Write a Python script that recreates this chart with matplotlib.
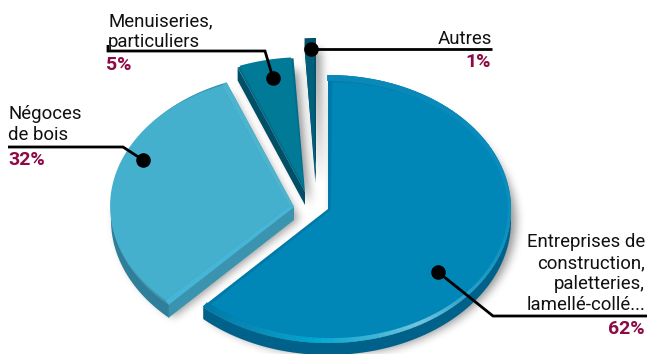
import numpy as np
import matplotlib
matplotlib.use("Agg")
import matplotlib.pyplot as plt
from matplotlib.patches import Polygon
from matplotlib.path import Path

categories = ["Entreprises de\nconstruction,\npaletteries,\nlamellé-collé...", "Négoces\nde bois", "Menuiseries,\nparticuliers", "Autres"]
values = [62, 32, 5, 1]
pct_labels = ["62%", "32%", "5%", "1%"]

top_colors = ["#0087b7", "#45b0ce", "#007a96", "#005f7a"]
bevel_colors = ["#0079a8", "#3b95b0", "#006e8a", "#00526b"]
wall_colors = ["#00628a", "#2f7f9a", "#004f66", "#003f55"]
cut_colors = ["#00628a", "#3a94b0", "#004f66", "#003f55"]
rim_angles = [227, 250, 265, 285, 300, 320, 345, 370, 450]
rim_colors = ["#0079a6", "#0a8fbb", "#00a6d0", "#3fb4d6", "#75c4df", "#2aa0c8", "#0b93c0", "#0a8cbc", "#0a88b8"]

centers = [(328, 209), (294, 207), (305, 192), (316, 172)]
A, B = 183, 134
DEPTH = [12, 13, 13, 11]
BEVEL = [6, 4, 5, 4]
SHIFT = [3, 5, 6, 0]

fig = plt.figure(figsize=(6.48, 3.54), dpi=100)
ax = fig.add_axes([0, 0, 1, 1])
ax.set_xlim(0, 648)
ax.set_ylim(354, 0)
ax.axis("off")


def arc(c, t1, t2, a=A, b=B, n=120):
    t = np.radians(np.linspace(t1, t2, n))
    return np.column_stack([c[0] + a * np.cos(t), c[1] - b * np.sin(t)])


def wedge(c, t1, t2, a=A, b=B):
    return np.vstack([[c], arc(c, t1, t2, a, b)])


def shadow(poly, dx, dy, blur, strength):
    xx, yy = np.meshgrid(np.arange(648) + 0.5, np.arange(354) + 0.5)
    pts = np.column_stack([xx.ravel() - dx, yy.ravel() - dy])
    m = Path(poly).contains_points(pts).reshape(xx.shape).astype(float)
    k = np.ones(blur) / blur
    for i in range(3):
        m = np.apply_along_axis(lambda r: np.convolve(r, k, mode="same"), 0, m)
        m = np.apply_along_axis(lambda r: np.convolve(r, k, mode="same"), 1, m)
    img = np.zeros(m.shape + (4,))
    img[..., 3] = m * strength
    ax.imshow(img, extent=(0, 648, 354, 0), zorder=1, aspect="auto", interpolation="bilinear")


# slice angles, clockwise from the top
spans = []
start = 90
for v in values:
    end = start - v * 3.6
    spans.append((end, start))
    start = end

for i, (t1, t2) in enumerate(spans):
    shadow(wedge(centers[i], t1, t2), 5, 12, 9, 0.42)

for i, (t1, t2) in enumerate(spans):
    c = centers[i]
    d = DEPTH[i]
    z = 2 + i

    # outer wall, only the part that faces the viewer
    lo, hi = [(227, 360), (180, 227), (0, 0), (0, 0)][i]
    if hi > lo:
        a1 = arc(c, lo, hi)
        ax.add_patch(Polygon(np.vstack([a1, (a1 + [0, d])[::-1]]), fc=wall_colors[i], ec="none", zorder=z))

    # cut face: the lower edge for Négoces, the left edge for the two small ones
    if i > 0:
        e = arc(c, t2, t2, n=1)[0]
        ax.add_patch(Polygon([c, e, e + [0, d], np.array(c) + [0, d]], fc=cut_colors[i], ec="none", zorder=z))

    ax.add_patch(Polygon(wedge(c, t1, t2), fc=bevel_colors[i], ec="none", zorder=z + 0.1))

    # bevel band on the rim of the big slice changes colour round the edge
    if i == 0:
        edges = np.linspace(t1 + 360, 450, 110)
        rs = [int(rim_colors[k][j:j + 2], 16) for k in range(len(rim_colors)) for j in (1, 3, 5)]
        rs = np.array(rs).reshape(-1, 3) / 255
        for e1, e2 in zip(edges[:-1], edges[1:]):
            col = [np.interp((e1 + e2) / 2, rim_angles, rs[:, q]) for q in range(3)]
            o = arc(c, e1, e2 + 0.3, n=4)
            n = arc(c, e1, e2 + 0.3, A - BEVEL[i], B - BEVEL[i], n=4)
            ax.add_patch(Polygon(np.vstack([o, n[::-1]]), fc=col, ec="none", zorder=z + 0.15))

    # inner face, pulled in along the bisector
    mid = np.radians((t1 + t2) / 2)
    inner_c = (c[0] + SHIFT[i] * np.cos(mid), c[1] - SHIFT[i] * np.sin(mid))
    ia, ib = A - BEVEL[i], B - BEVEL[i]
    if i == 3:
        ax.add_patch(Polygon(wedge((c[0] - 1, c[1] + 6), t1 + 0.3, t2 - 0.3, A - 4, B - 4), fc=top_colors[i], ec="none", zorder=z + 0.2))
    else:
        ax.add_patch(Polygon(wedge(inner_c, t1 + 0.5, t2 - 0.5, ia, ib), fc=top_colors[i], ec="none", zorder=z + 0.2))
    if i == 1:
        # lighter bevel along the front cut, almost nothing along the upper one
        e = arc(c, t2, t2, n=1)[0]
        e2_ = arc(inner_c, t2 - 0.5, t2 - 0.5, ia, ib, n=1)[0]
        ax.add_patch(Polygon([c, e, e2_, inner_c], fc="#45b6d8", ec="none", zorder=z + 0.15))
        e = arc(c, t1, t1, n=1)[0]
        e1_ = arc(inner_c, t1 + 0.5, t1 + 0.5, ia, ib, n=1)[0]
        ax.add_patch(Polygon([c, e, e1_, inner_c], fc="#4db4d0", ec="none", zorder=z + 0.15))

# leader lines and dots
leaders = [
    [(647, 316), (493, 316), (438, 272)],
    [(8, 147), (123, 147), (143, 160)],
    [(108, 45), (108, 51), (265, 51), (273, 78)],
    [(492, 49), (311, 49)],
]
for pts in leaders:
    p = np.array(pts)
    ax.plot(p[:, 0], p[:, 1], color="black", lw=2, solid_joinstyle="miter", solid_capstyle="butt", zorder=10)
    ax.plot(p[-1, 0], p[-1, 1], "o", color="black", ms=10.5, mec="none", zorder=11)

# labels
font = "Roboto"
maroon = "#8c0a45"
fs = 13.4
label_pos = [(645, 247, "right"), (8, 119, "left"), (108, 26, "left"), (492, 44, "right")]
pct_pos = [(645, 334), (8, 165), (106, 70), (491, 67)]
for i, name in enumerate(categories):
    x, y, ha = label_pos[i]
    for k, line in enumerate(name.split("\n")):
        ax.text(x, y + k * 21, line, ha=ha, va="baseline", fontsize=fs, color="#111111", family=font, zorder=12)
    ax.text(pct_pos[i][0], pct_pos[i][1], pct_labels[i], ha=ha, va="baseline", fontsize=14, fontweight="bold", color=maroon, family=font, zorder=12)

fig.savefig("out.png", dpi=100)
